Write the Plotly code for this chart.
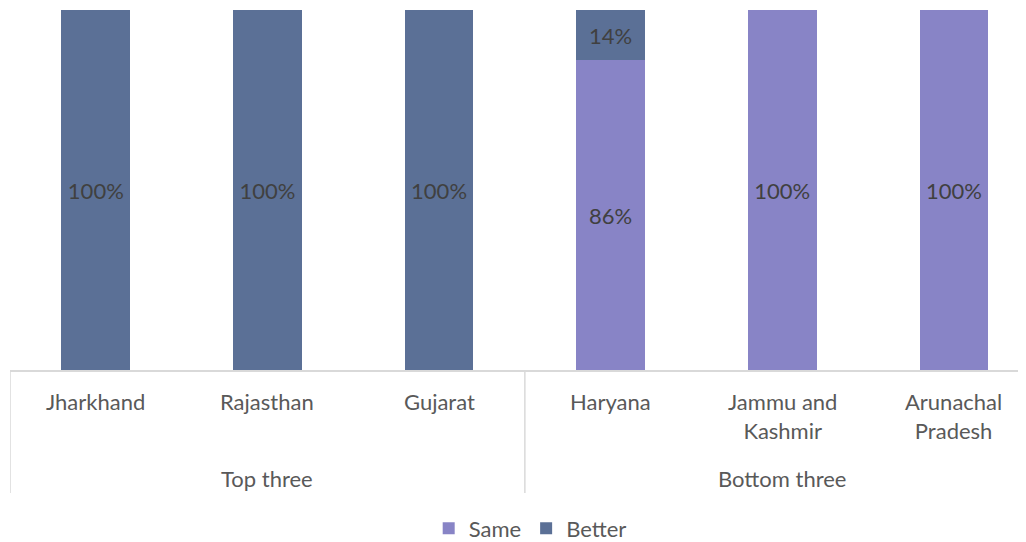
import plotly.graph_objects as go

states = ['Jharkhand', 'Rajasthan', 'Gujarat', 'Haryana', 'Jammu and<br>Kashmir', 'Arunachal<br>Pradesh']
groups = ['Top three', 'Bottom three']
same = [0, 0, 0, 86, 100, 100]
better = [100, 100, 100, 14, 0, 0]

same_color = '#8884C6'
better_color = '#5B7096'
text_color = '#595959'
font_family = 'Lato, Open Sans, sans-serif'

xs = list(range(len(states)))

fig = go.Figure()
fig.add_trace(go.Bar(
    x=xs, y=same, name='Same', marker_color=same_color, marker_line_width=0, width=0.4,
    text=[f'{v}%' if v else '' for v in same], textposition='inside',
    insidetextanchor='middle', textangle=0,
    textfont=dict(size=22, color='#404040', family=font_family),
))
fig.add_trace(go.Bar(
    x=xs, y=better, name='Better', marker_color=better_color, marker_line_width=0, width=0.4,
    text=[f'{v}%' if v else '' for v in better], textposition='inside',
    insidetextanchor='middle', textangle=0,
    textfont=dict(size=22, color='#404040', family=font_family),
))

annotations = []
for i, s in enumerate(states):
    annotations.append(dict(x=i, xref='x', y=-0.045, yref='paper', text=s,
                            showarrow=False, yanchor='top',
                            font=dict(size=22, color=text_color, family=font_family)))
for j, g in enumerate(groups):
    annotations.append(dict(x=1 + 3 * j, xref='x', y=-0.258, yref='paper', text=g,
                            showarrow=False, yanchor='top',
                            font=dict(size=22, color=text_color, family=font_family)))

shapes = []
for xv in [-0.5, 2.5]:
    shapes.append(dict(type='line', xref='x', yref='paper', x0=xv, x1=xv, y0=0, y1=-0.342,
                       line=dict(color='#D9D9D9', width=1.5)))

fig.update_layout(
    barmode='stack',
    width=1018, height=534,
    margin=dict(l=2, r=0, t=2, b=172, autoexpand=False),
    paper_bgcolor='white', plot_bgcolor='white',
    xaxis=dict(range=[-0.5, 5.42], showticklabels=False, showgrid=False, zeroline=False,
               showline=True, linecolor='#D9D9D9', linewidth=1.5, ticks=''),
    yaxis=dict(range=[0, 100], visible=False),
    annotations=annotations,
    shapes=shapes,
    showlegend=True,
    legend=dict(orientation='h', x=0.512, xanchor='center', y=-0.44, yanchor='middle',
                font=dict(size=22, color=text_color, family=font_family),
                traceorder='normal', itemwidth=30),
    bargap=0.6,
)

fig.write_html('out.html')
